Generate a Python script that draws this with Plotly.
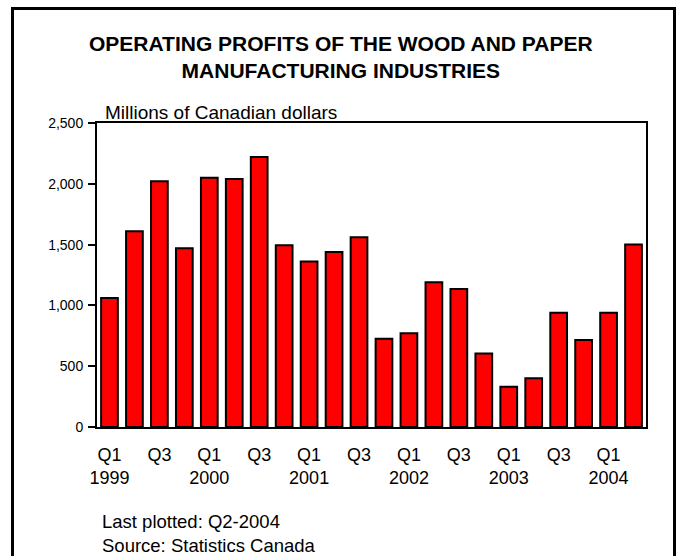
import plotly.graph_objects as go

# Quarterly operating profits, millions of Canadian dollars
quarters = [
    "Q1 1999", "Q2 1999", "Q3 1999", "Q4 1999",
    "Q1 2000", "Q2 2000", "Q3 2000", "Q4 2000",
    "Q1 2001", "Q2 2001", "Q3 2001", "Q4 2001",
    "Q1 2002", "Q2 2002", "Q3 2002", "Q4 2002",
    "Q1 2003", "Q2 2003", "Q3 2003", "Q4 2003",
    "Q1 2004", "Q2 2004",
]
profits = [
    1060, 1610, 2020, 1470,
    2050, 2040, 2220, 1495,
    1360, 1440, 1560, 725,
    770, 1190, 1135, 605,
    330, 400, 940, 715,
    940, 1500,
]

# Labelled ticks: every other quarter
tick_quarters = quarters[::2]
tick_text = ["Q1<br>1999", "Q3", "Q1<br>2000", "Q3", "Q1<br>2001", "Q3",
             "Q1<br>2002", "Q3", "Q1<br>2003", "Q3", "Q1<br>2004"]

y_ticks = [0, 500, 1000, 1500, 2000, 2500]

FONT = "Liberation Sans, Arial, sans-serif"

fig = go.Figure(
    go.Bar(
        x=quarters,
        y=profits,
        marker=dict(color="#FF0000", line=dict(color="black", width=2)),
        hoverinfo="x+y",
    )
)

W, H = 678, 556
L, R, T, B = 97, 32, 123, 129
pw, ph = W - L - R, H - T - B


def px_x(x):
    return (x - L) / pw


def px_y(y):
    return (H - B - y) / ph


fig.update_layout(
    width=W,
    height=H,
    margin=dict(l=L, r=R, t=T, b=B),
    paper_bgcolor="white",
    plot_bgcolor="white",
    showlegend=False,
    bargap=0.33,
    font=dict(family=FONT, color="black"),
    xaxis=dict(
        type="category",
        tickmode="array",
        tickvals=tick_quarters,
        ticktext=tick_text,
        ticks="",
        showline=True,
        linecolor="black",
        linewidth=2,
        mirror=True,
        showgrid=False,
        tickfont=dict(size=18, family=FONT, color="black"),
        ticklabelstandoff=10,
    ),
    yaxis=dict(
        range=[0, 2500],
        tickvals=y_ticks,
        tickformat=",",
        ticks="outside",
        ticklen=7,
        tickwidth=2,
        tickcolor="black",
        showline=True,
        linecolor="black",
        linewidth=2,
        mirror=True,
        showgrid=False,
        zeroline=False,
        tickfont=dict(size=14, family=FONT, color="black"),
        ticklabelstandoff=2,
    ),
    shapes=[
        dict(
            type="rect", xref="paper", yref="paper",
            x0=px_x(12.5), x1=px_x(674.5), y0=px_y(620), y1=px_y(8.5),
            line=dict(color="black", width=3), fillcolor="rgba(0,0,0,0)",
            layer="below",
        )
    ],
    annotations=[
        dict(
            text="<b>OPERATING PROFITS OF THE WOOD AND PAPER<br>MANUFACTURING INDUSTRIES</b>",
            xref="paper", yref="paper", x=px_x(341), y=px_y(57),
            xanchor="center", yanchor="middle", showarrow=False,
            font=dict(size=21, family=FONT, color="black"),
        ),
        dict(
            text="Millions of Canadian dollars",
            xref="paper", yref="paper", x=px_x(103), y=px_y(125),
            xanchor="left", yanchor="bottom", showarrow=False,
            font=dict(size=19, family=FONT, color="black"),
        ),
        dict(
            text="Last plotted: Q2-2004",
            xref="paper", yref="paper", x=px_x(100), y=px_y(521),
            xanchor="left", yanchor="middle", showarrow=False,
            font=dict(size=18.5, family=FONT, color="black"),
        ),
        dict(
            text="Source: Statistics Canada",
            xref="paper", yref="paper", x=px_x(100), y=px_y(545),
            xanchor="left", yanchor="middle", showarrow=False,
            font=dict(size=18.5, family=FONT, color="black"),
        ),
    ],
)

fig.write_html("out.html")
